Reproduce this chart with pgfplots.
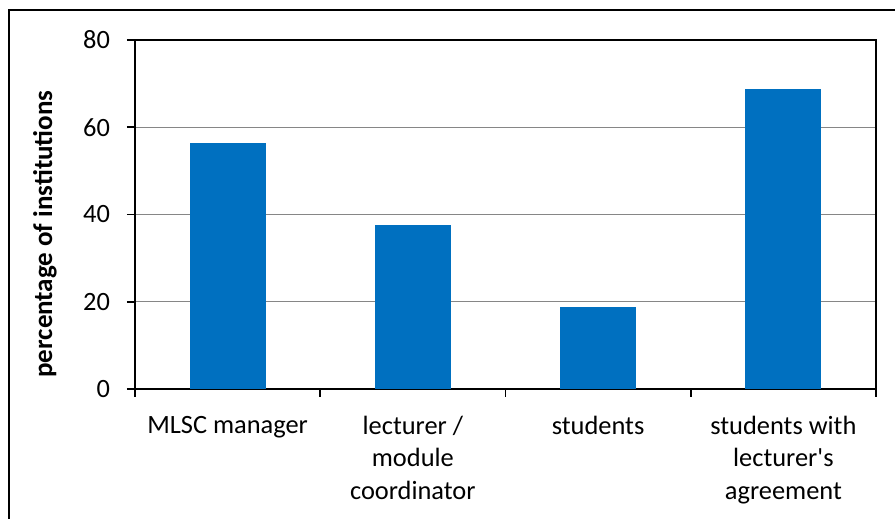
\documentclass[border=0pt]{standalone}
\usepackage{fontspec}
\setmainfont{Carlito}
\usepackage{pgfplots}
\pgfplotsset{compat=1.18}
\definecolor{barblue}{HTML}{0070C0}
\definecolor{gridgray}{HTML}{868686}

\begin{document}
\begin{tikzpicture}
\path[use as bounding box] (0,0) rectangle (447.5pt,259.5pt);
\draw[line width=0.8pt] (4.5pt,-1pt) -- (4.5pt,254.5pt) -- (449pt,254.5pt);
\begin{axis}[
    at={(67.5pt,65pt)},
    anchor=south west,
    scale only axis,
    width=370.5pt,
    height=174.5pt,
    ybar,
    bar width=0.405,
    xmin=-0.5, xmax=3.5,
    ymin=0, ymax=80,
    ytick={0,20,40,60,80},
    xtick={0,1,2,3},
    xticklabels={MLSC manager, {lecturer /\\module\\coordinator}, students, {students with\\lecturer\textquotesingle s\\agreement}},
    minor xtick={-0.5,0.5,1.5,2.5,3.5},
    major x tick style={draw=none},
    minor tick length=4pt,
    major tick length=4pt,
    tick align=outside,
    xtick pos=bottom, ytick pos=left,
    ymajorgrids,
    grid style={gridgray, line width=0.6pt},
    axis line style={black, line width=0.8pt},
    tick style={black, line width=0.8pt},
    /pgf/number format/assume math mode=true,
    ticklabel style={font=\fontsize{13.2}{16.2}\selectfont},
    xticklabel style={align=center, yshift=-6pt},
    yticklabel style={xshift=-5pt},
    ylabel={\textbf{percentage of institutions}},
    ylabel style={at={(axis description cs:-0.112,0.444)}, anchor=base, font=\fontsize{13.5}{16}\selectfont},
]
\addplot[fill=barblue, draw=barblue] coordinates {
    (0, 56.25)
    (1, 37.5)
    (2, 18.75)
    (3, 68.75)
};
\end{axis}
\end{tikzpicture}
\end{document}
